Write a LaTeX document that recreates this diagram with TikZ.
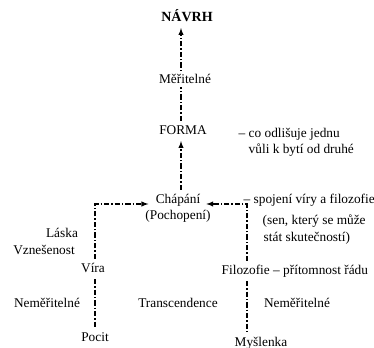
\documentclass[tikz,border=0pt]{standalone}
\usepackage{fontspec}
\setmainfont{Liberation Serif}
\usepackage{tikz}
\usetikzlibrary{arrows,positioning,calc}

\tikzset{
    every node/.style={text height=1.5ex,text depth=0.25ex,font=\fontsize{10}{12}\selectfont},
    link/.style={line width=0.8pt,dash pattern=on 4pt off 1.5pt on 1pt off 1.5pt},
    tip/.style={-latex}
}

\begin{document}
\begin{tikzpicture}[x=0.75pt,y=-0.75pt]
    \useasboundingbox (0,0) rectangle (374,348);

    % stred
    \node[font=\fontsize{10.5}{12}\selectfont\bfseries] (navrh) at (187,18) {NÁVRH};
    \node (forma) at (183,131) {FORMA};
    \node (chapani) at (178,200) {Chápání};
    \node (pochopeni) at (178,216) {(Pochopení)};

    % leva vetev
    \node (vira) at (93,269) {Víra};
    \node (pocit) at (95,338) {Pocit};
    \node (laska) at (62,234) {Láska};
    \node (vznesenost) at (44,251) {Vznešenost};
    \node (nemer1) at (47,304) {Neměřitelné};

    % prava vetev
    \node[anchor=west] (filozofie) at (217,271) {Filozofie -- přítomnost řádu};
    \node (myslenka) at (261,343) {Myšlenka};
    \node (nemer2) at (297,304) {Neměřitelné};
    \node (transc) at (178,304) {Transcendence};

    % poznamky
    \node[anchor=west] (odlis1) at (234,134) {-- co odlišuje jednu};
    \node[anchor=west] (odlis2) at (244,150) {vůli k bytí od druhé};
    \node[anchor=west] (spoj1) at (239,200) {-- spojení víry a filozofie};
    \node[anchor=west] (spoj2) at (258,221) {(sen, který se může};
    \node[anchor=west] (spoj3) at (259,238) {stát skutečností)};

    \coordinate (axis) at (181,0);
    \coordinate (lcorner) at (95,204);
    \coordinate (rcorner) at (247,204);

    \draw[link,tip] (forma.north -| axis) -- (navrh.south -| axis);
    \node[fill=white,inner ysep=1pt] (meritelne) at (185,80) {Měřitelné};
    \draw[link,tip] (chapani.north -| axis) -- (forma.south -| axis);

    \draw[link,tip] (vira.north -| lcorner) -- (lcorner) -- ([xshift=-2pt]chapani.west |- lcorner);
    \draw[link] (vira.south -| lcorner) -- (pocit.north -| lcorner);

    \draw[link,tip] (filozofie.north -| rcorner) -- (rcorner) -- ([xshift=1pt]chapani.east |- rcorner);
    \draw[link] (filozofie.south -| rcorner) -- (myslenka.north -| rcorner);
\end{tikzpicture}
\end{document}
